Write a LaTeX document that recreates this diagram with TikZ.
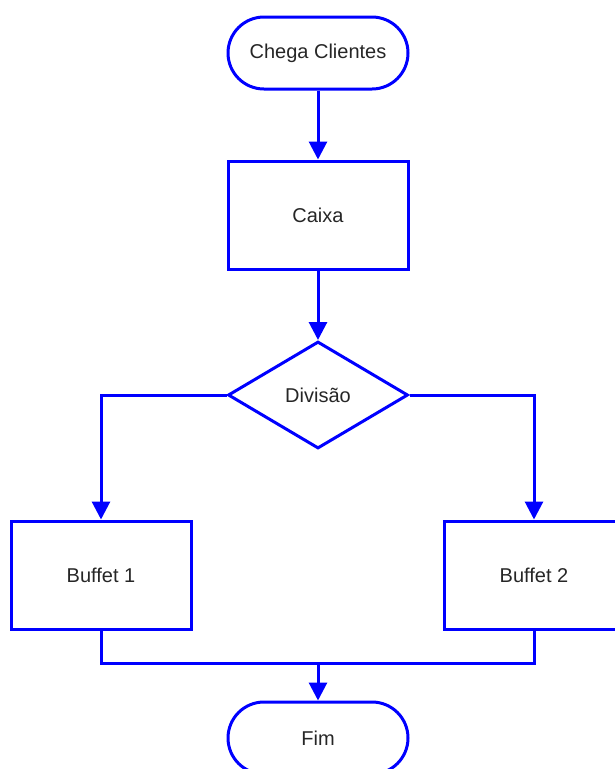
\documentclass[tikz,border=0pt]{standalone}
\usepackage{fontspec}
\setmainfont{Liberation Sans}
\usetikzlibrary{shapes.geometric,arrows.meta}
\begin{document}
\begin{tikzpicture}[x=1pt,y=-1pt,
  every node/.style={font=\fontsize{20}{24}\selectfont, text=black!85},
  term/.style={draw=blue, line width=3pt, rectangle, rounded corners=36pt, minimum width=180pt, minimum height=72pt, inner sep=0pt},
  procbox/.style={draw=blue, line width=3pt, rectangle, minimum width=180pt, minimum height=108pt, inner sep=0pt},
  decis/.style={draw=blue, line width=3pt, diamond, minimum width=180pt, minimum height=107pt, inner sep=0pt},
  conn/.style={draw=blue, line width=3pt},
  arr/.style={conn, -{Triangle[length=18pt,width=18pt]}}
]
\useasboundingbox (0,0) rectangle (614,769);
\node[term] (ini) at (318,53) {Chega Clientes};
\node[procbox] (caixa) at (318,215) {Caixa};
\node[decis] (div) at (318,395) {Divisão};
\node[procbox] (b1) at (101,575) {Buffet 1};
\node[procbox] (b2) at (534,575) {Buffet 2};
\node[term] (fim) at (318,738) {Fim};
\coordinate (j) at (318,663);
\draw[arr] (ini) -- (caixa);
\draw[arr] (caixa) -- (div);
\draw[arr] (div.west) -| (b1.north);
\draw[arr] (div.east) -| (b2.north);
\draw[conn] (b1.south) |- (j) -| (b2.south);
\draw[arr] (j) -- (fim);
\end{tikzpicture}
\end{document}
